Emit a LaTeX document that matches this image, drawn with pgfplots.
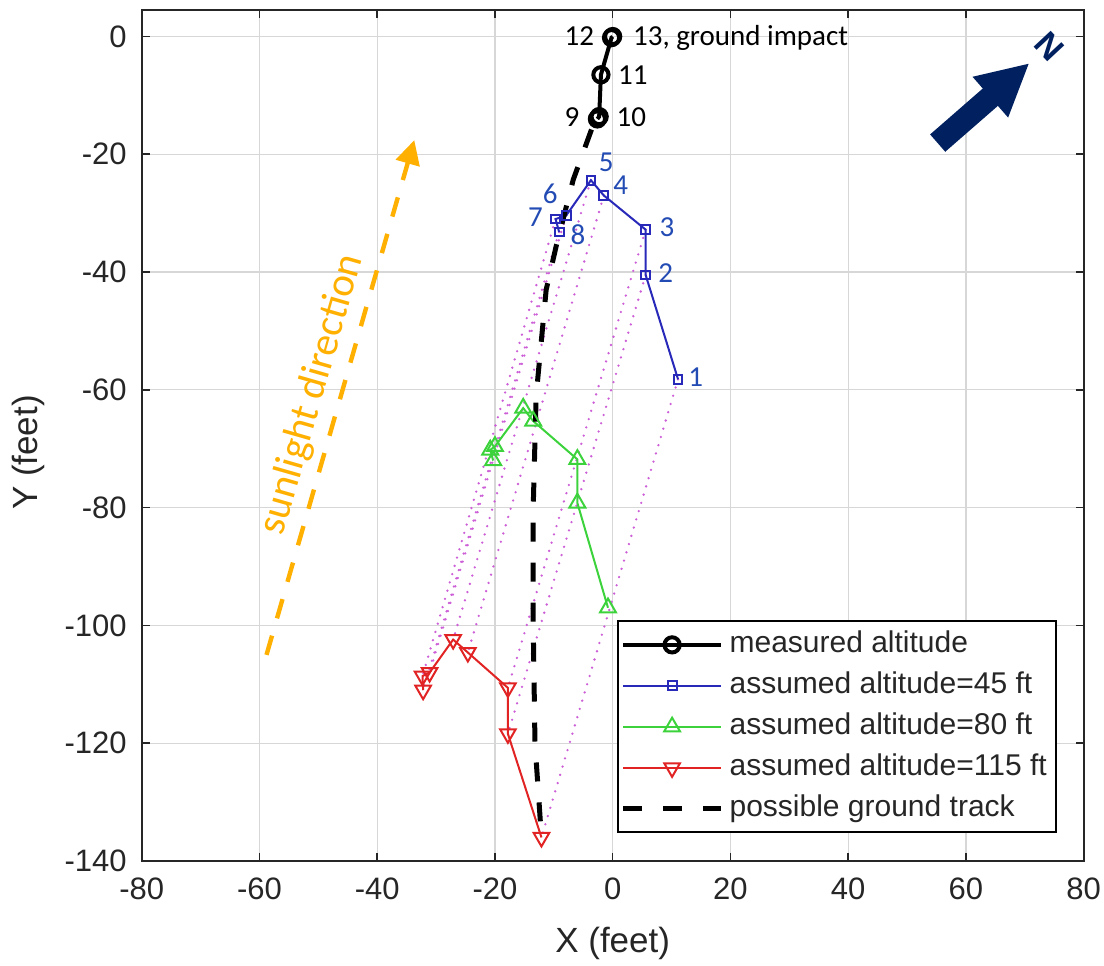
\documentclass[border=0pt]{standalone}
\usepackage{fontspec}
\setmainfont{Liberation Sans}
\newfontfamily\calibri{Carlito}
\usepackage{pgfplots}
\pgfplotsset{compat=1.18}
\usetikzlibrary{arrows.meta}

\definecolor{axgray}{RGB}{38,38,38}
\definecolor{gridgray}{RGB}{215,215,215}
\definecolor{serblue}{RGB}{40,40,185}
\definecolor{sergreen}{RGB}{60,210,60}
\definecolor{serred}{RGB}{225,35,35}
\definecolor{shadow}{RGB}{205,95,215}
\definecolor{lblblue}{RGB}{35,75,180}
\definecolor{sunorange}{RGB}{255,176,0}
\definecolor{navy}{RGB}{0,32,96}

\begin{document}
\begin{tikzpicture}
\useasboundingbox (-70.85pt,-52pt) rectangle (481.15pt,430.5pt);
\begin{axis}[
  at={(0,0)}, anchor=south west,
  scale only axis, width=471pt, height=425.5pt,
  xmin=-80, xmax=80, ymin=-140, ymax=4.5,
  xtick={-80,-60,...,80}, ytick={-140,-120,...,0},
  grid=major, major grid style={gridgray, line width=0.6pt},
  axis line style={axgray, line width=0.9pt},
  tick style={axgray, line width=0.8pt},
  tick align=inside, tick pos=both, major tick length=4pt,
  ticklabel style={font=\fontsize{15.5}{18}\selectfont, text=axgray},
  /pgf/number format/assume math mode=true,
  xticklabel shift=5pt, yticklabel shift=4pt,
  xlabel={X (feet)}, ylabel={Y (feet)},
  label style={font=\fontsize{17.5}{20}\selectfont, text=axgray},
  xlabel style={at={(axis description cs:0.5,-0.0964)}, anchor=center},
  ylabel style={at={(axis description cs:-0.1207,0.48)}, anchor=center},
  legend cell align=left,
  legend style={at={(0.9713,0.0326)}, anchor=south east, draw=black,
    line width=0.9pt, fill=white, font=\fontsize{15}{18}\selectfont,
    text=axgray, inner sep=1.5pt,
    nodes={inner sep=3pt, text height=11pt, text depth=3.5pt}},
  legend image code/.code={\draw[mark repeat=2, mark phase=2, #1]
    plot coordinates {(0pt,0pt) (24.5pt,0pt) (49pt,0pt)};},
]
% shadow projection lines (45 ft -> 115 ft)
\addplot[shadow, line width=1.3pt, line cap=round, dash pattern=on 0pt off 4.3pt, forget plot] coordinates {(11.1,-58.2) (-12.1,-136)};
\addplot[shadow, line width=1.3pt, line cap=round, dash pattern=on 0pt off 4.3pt, forget plot] coordinates {(5.6,-40.5) (-17.8,-118.4)};
\addplot[shadow, line width=1.3pt, line cap=round, dash pattern=on 0pt off 4.3pt, forget plot] coordinates {(5.6,-32.8) (-17.8,-110.6)};
\addplot[shadow, line width=1.3pt, line cap=round, dash pattern=on 0pt off 4.3pt, forget plot] coordinates {(-1.5,-27) (-24.6,-104.6)};
\addplot[shadow, line width=1.3pt, line cap=round, dash pattern=on 0pt off 4.3pt, forget plot] coordinates {(-3.7,-24.4) (-27.1,-102.4)};
\addplot[shadow, line width=1.3pt, line cap=round, dash pattern=on 0pt off 4.3pt, forget plot] coordinates {(-7.9,-30.4) (-31.1,-108)};
\addplot[shadow, line width=1.3pt, line cap=round, dash pattern=on 0pt off 4.3pt, forget plot] coordinates {(-9.7,-31) (-32.3,-108.6)};
\addplot[shadow, line width=1.3pt, line cap=round, dash pattern=on 0pt off 4.3pt, forget plot] coordinates {(-9.1,-33.2) (-32.2,-111)};

\addplot[black, line width=2pt, mark=o, mark size=3.8pt] coordinates {
  (-2.6,-14) (-2.3,-13.6) (-2,-6.5) (-0.2,-0.2) (0,0)};
\addplot[serblue, line width=1pt, mark=square, mark size=2.2pt] coordinates {
  (11.1,-58.2) (5.6,-40.5) (5.6,-32.8) (-1.5,-27) (-3.7,-24.4) (-7.9,-30.4) (-9.7,-31) (-9.1,-33.2)};
\addplot[sergreen, line width=1pt, mark=triangle, mark size=4.6pt] coordinates {
  (-0.8,-97) (-6,-79.2) (-6,-71.8) (-13.5,-65.3) (-15.2,-63.1) (-20,-69.6) (-20.8,-70.2) (-20.3,-72)};
\addplot[serred, line width=1pt, mark=triangle, mark size=4.5pt, mark options={rotate=180}] coordinates {
  (-12.1,-136) (-17.8,-118.4) (-17.8,-110.6) (-24.6,-104.6) (-27.1,-102.4) (-31.1,-108) (-32.3,-108.6) (-32.2,-111)};
\addplot[black, line width=2.5pt, dash pattern=on 9.5pt off 10.5pt] coordinates {
  (-3.6,-15.8) (-6.7,-24.3) (-9.6,-35.6) (-11.3,-43) (-13,-61) (-13.5,-80) (-13.5,-100) (-13.2,-120) (-12.1,-136)};
\legend{measured altitude, assumed altitude=45 ft, assumed altitude=80 ft, assumed altitude=115 ft, possible ground track}

% point labels
\begin{scope}[every node/.style={font=\calibri\fontsize{14.5}{17}\selectfont, inner sep=0pt}]
\node[anchor=base east] at (axis cs:-3.1,-1.5) {12};
\node[anchor=base west] at (axis cs:3.4,-1.5) {13, ground impact};
\node[anchor=base west] at (axis cs:0.85,-8.1) {11};
\node[anchor=base east] at (axis cs:-5.6,-15.3) {9};
\node[anchor=base west] at (axis cs:0.6,-15.3) {10};
\node[anchor=base west, text=lblblue] at (axis cs:-2.4,-23) {5};
\node[anchor=base west, text=lblblue] at (axis cs:0.05,-26.9) {4};
\node[anchor=base east, text=lblblue] at (axis cs:-9.3,-28.3) {6};
\node[anchor=base east, text=lblblue] at (axis cs:-11.8,-32.3) {7};
\node[anchor=base west, text=lblblue] at (axis cs:-7.2,-35.4) {8};
\node[anchor=base west, text=lblblue] at (axis cs:7.9,-34) {3};
\node[anchor=base west, text=lblblue] at (axis cs:7.7,-41.7) {2};
\node[anchor=base west, text=lblblue] at (axis cs:12.8,-59.5) {1};
\end{scope}

% sunlight direction
\draw[sunorange, line width=2.2pt, dash pattern=on 10pt off 9pt,
  -{Triangle[length=12pt,width=12pt]}] (axis cs:-58.8,-105) -- (axis cs:-33.7,-17.6);
\node[font=\calibri\fontsize{20.5}{24}\selectfont, text=sunorange, rotate=74, inner sep=0pt]
  at (axis cs:-51,-60.8) {sunlight direction};

% north arrow
\draw[navy, line width=11.5pt, -{Triangle[length=26pt,width=25pt]}]
  (axis cs:55.2,-18.1) -- (axis cs:70.8,-4.5);
\node[font=\bfseries\fontsize{17}{20}\selectfont, text=navy, rotate=-47]
  at (axis cs:74.2,-1.75) {N};
\end{axis}
\end{tikzpicture}
\end{document}
